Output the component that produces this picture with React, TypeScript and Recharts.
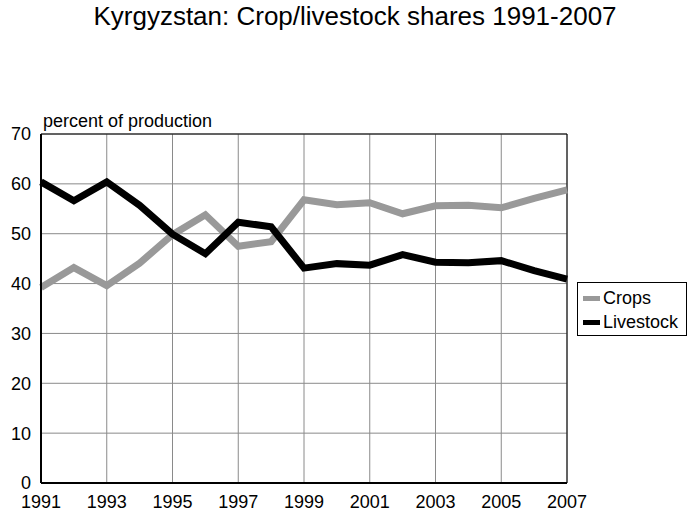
import React from 'react';
import {
  LineChart,
  Line,
  XAxis,
  YAxis,
  CartesianGrid,
  ReferenceLine,
} from 'recharts';

const years = [1991, 1992, 1993, 1994, 1995, 1996, 1997, 1998, 1999, 2000, 2001, 2002, 2003, 2004, 2005, 2006, 2007];
const crops = [39.2, 43.2, 39.6, 44.1, 49.8, 53.8, 47.5, 48.4, 56.8, 55.8, 56.2, 54.0, 55.6, 55.7, 55.2, 57.1, 58.8];
const livestock = [60.4, 56.6, 60.4, 55.7, 49.9, 46.0, 52.3, 51.4, 43.1, 44.0, 43.7, 45.8, 44.3, 44.2, 44.6, 42.6, 40.9];
const xTicks = [1991, 1993, 1995, 1997, 1999, 2001, 2003, 2005, 2007];
const yTicks = [0, 10, 20, 30, 40, 50, 60, 70];

const seriesInfo = [
  { key: 'crops', name: 'Crops', color: '#999999' },
  { key: 'livestock', name: 'Livestock', color: '#000000' },
];

const FONT = '"Liberation Sans", Arial, sans-serif';

const chartData = years.map((year, i) => ({
  year,
  crops: crops[i],
  livestock: livestock[i],
}));

// legend drawn as a plain box so it does not take space from the plot
const LegendBox = () => (
  <div
    style={{
      position: 'absolute',
      left: 577,
      top: 282,
      width: 110,
      height: 54,
      border: '1px solid #000',
      boxSizing: 'border-box',
      paddingTop: 3,
      paddingLeft: 5,
      fontSize: 18,
      color: '#000',
      background: '#fff',
    }}
  >
    {seriesInfo.map((s) => (
      <div key={s.key} style={{ display: 'flex', alignItems: 'center', height: 24 }}>
        <span
          style={{
            display: 'inline-block',
            width: 17,
            height: 5,
            background: s.color,
            marginRight: 3,
          }}
        />
        <span>{s.name}</span>
      </div>
    ))}
  </div>
);

export default function App() {
  return (
    <div style={{ position: 'absolute', left: 0, top: 0, width: 690, height: 513, background: '#fff', fontFamily: FONT }}>
      <LineChart
        width={690}
        height={513}
        data={chartData}
        margin={{ top: 134, right: 123, left: 0, bottom: 0 }}
      >
        <CartesianGrid stroke="#8a8a8a" strokeWidth={1} />
        <XAxis
          dataKey="year"
          type="number"
          domain={[1991, 2007]}
          ticks={xTicks}
          height={30}
          tickLine={false}
          tickMargin={6}
          axisLine={{ stroke: '#000', strokeWidth: 2 }}
          tick={{ fill: '#000', fontSize: 18, fontFamily: FONT }}
          interval={0}
        />
        <YAxis
          type="number"
          domain={[0, 70]}
          ticks={yTicks}
          width={41}
          tickLine={false}
          tickMargin={4}
          axisLine={{ stroke: '#000', strokeWidth: 2 }}
          tick={{ fill: '#000', fontSize: 18, fontFamily: FONT }}
          interval={0}
        />
        <ReferenceLine y={70} stroke="#000" strokeWidth={1} />
        <ReferenceLine x={2007} stroke="#000" strokeWidth={1} />
        {seriesInfo.map((s) => (
          <Line
            key={s.key}
            type="linear"
            dataKey={s.key}
            name={s.name}
            stroke={s.color}
            strokeWidth={7}
            dot={false}
            isAnimationActive={false}
          />
        ))}
      </LineChart>
      <div
        style={{
          position: 'absolute',
          left: 10,
          top: 3,
          width: 690,
          textAlign: 'center',
          fontSize: 26,
          lineHeight: '26px',
          color: '#000',
          whiteSpace: 'nowrap',
        }}
      >
        Kyrgyzstan: Crop/livestock shares 1991-2007
      </div>
      <div
        style={{
          position: 'absolute',
          left: 43,
          top: 112,
          fontSize: 18,
          lineHeight: '18px',
          color: '#000',
          whiteSpace: 'nowrap',
        }}
      >
        percent of production
      </div>
      <LegendBox />
    </div>
  );
}
